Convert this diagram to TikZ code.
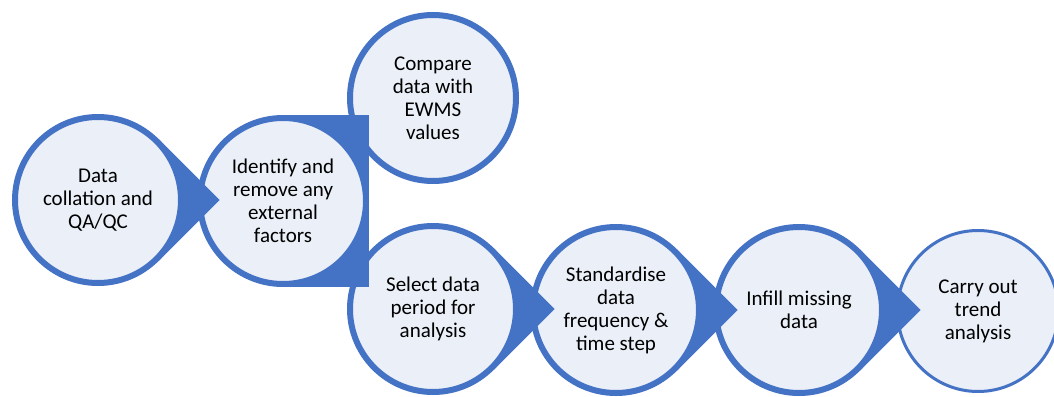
\documentclass[tikz,border=0pt]{standalone}
\usepackage{fontspec}
\setmainfont{Carlito}
\usetikzlibrary{calc}
\definecolor{bord}{HTML}{4472C4}
\definecolor{lite}{HTML}{EAEFF8}
\newcommand\stagefont{\fontsize{21}{23}\selectfont}
\tikzset{
  stage/.style={circle, draw=bord, fill=lite, line width=6pt, minimum size=166pt,
    inner sep=0pt, align=center, text=black, font=\stagefont},
  thinstage/.style={stage, line width=3pt, minimum size=161pt},
  pointer/.style={fill=bord, draw=none},
}
\begin{document}
\begin{tikzpicture}[x=1pt,y=1pt]
\useasboundingbox (0,0) rectangle (1054,-396);
\coordinate (p1) at (98,-200);
\coordinate (p2) at (283,-201);
\coordinate (p3) at (433,-98);
\coordinate (p4) at (433,-309);
\coordinate (p5) at (616,-310);
\coordinate (p6) at (799,-310);
\coordinate (p7) at (978,-311);
\foreach \i in {1,4,5,6}{
  \coordinate (t\i) at ($(p\i)+(121.6,0)$);
}
% drawn from last to first so each pointer lies over the next circle
\node[thinstage] (n7) at (p7) {Carry out\\trend\\analysis};
\fill[pointer] ($(p6)+(45:86)$) -- (t6) -- ($(p6)+(-45:86)$) -- (p6) -- cycle;
\node[stage] (n6) at (p6) {Infill missing\\data};
\fill[pointer] ($(p5)+(45:86)$) -- (t5) -- ($(p5)+(-45:86)$) -- (p5) -- cycle;
\node[stage] (n5) at (p5) {Standardise\\data\\frequency \&\\time step};
\fill[pointer] ($(p4)+(45:86)$) -- (t4) -- ($(p4)+(-45:86)$) -- (p4) -- cycle;
\node[stage] (n4) at (p4) {Select data\\period for\\analysis};
\node[stage] (n3) at (p3) {Compare\\data with\\EWMS\\values};
\fill[pointer] ($(p2)+(0,86)$) rectangle ($(p2)+(86,-86)$);
\node[stage] (n2) at (p2) {Identify and\\remove any\\external\\factors};
\fill[pointer] ($(p1)+(45:86)$) -- (t1) -- ($(p1)+(-45:86)$) -- (p1) -- cycle;
\node[stage] (n1) at (p1) {Data\\collation and\\QA/QC};
\end{tikzpicture}
\end{document}
